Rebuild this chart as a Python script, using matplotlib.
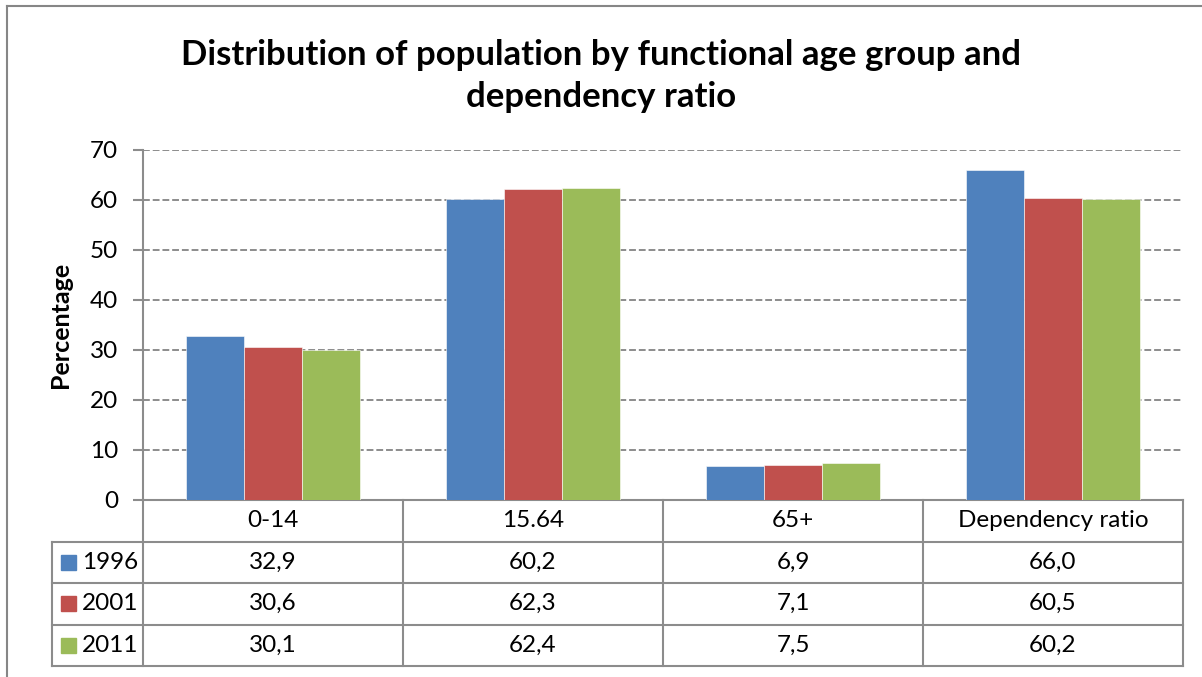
import matplotlib.pyplot as plt
from matplotlib.lines import Line2D
import numpy as np

plt.rcParams['font.family'] = ['Lato', 'DejaVu Sans']

categories = ["0-14", "15.64", "65+", "Dependency ratio"]
years = ["1996", "2001", "2011"]
v1996 = [32.9, 60.2, 6.9, 66.0]
v2001 = [30.6, 62.3, 7.1, 60.5]
v2011 = [30.1, 62.4, 7.5, 60.2]
series = [v1996, v2001, v2011]
colors = ["#4F81BD", "#C0504D", "#9BBB59"]

W, H = 1202, 677
fig = plt.figure(figsize=(W / 100, H / 100), dpi=100)

# plot area in pixels: x 143..1183, y 150..500
ax = fig.add_axes([143 / W, 1 - 500 / H, 1040 / W, 350 / H])

x = np.arange(len(categories))
bw = 0.222
for i, vals in enumerate(series):
    ax.bar(x + (i - 1) * bw, vals, bw, color=colors[i], edgecolor="white",
           linewidth=0.4, zorder=3, label=years[i])

ax.set_xlim(-0.5, len(categories) - 0.5)
ax.set_ylim(0, 70)
ax.set_yticks(range(0, 71, 10))
ax.yaxis.grid(True, linestyle=(0, (3.5, 1.5)), color="#8c8c8c", linewidth=1.4, zorder=0)
ax.set_xticks([])
for s in ["top", "right"]:
    ax.spines[s].set_visible(False)
gray = "#8c8c8c"
ax.spines["left"].set_color(gray)
ax.spines["bottom"].set_color(gray)
ax.spines["left"].set_linewidth(1.5)
ax.spines["bottom"].set_linewidth(1.5)
fs = 17.5
ax.tick_params(axis="y", length=7, width=1.5, color=gray, labelsize=fs, pad=11)
ax.set_ylabel("Percentage", fontsize=18, fontweight="bold")
ax.yaxis.set_label_coords(-71 / 1040, 0.5)

# data table below the axis
row_h = 41.5 / 350
left_col = -0.5 - 91 / 260.0
trans = ax.get_xaxis_transform()

def hline(y, x0, x1):
    ax.add_line(Line2D([x0, x1], [y, y], color=gray, linewidth=1.5, clip_on=False,
                       transform=trans))

def vline(xv, y0, y1):
    ax.add_line(Line2D([xv, xv], [y0, y1], color=gray, linewidth=1.5, clip_on=False,
                       transform=trans))

bottom = -4 * row_h
for k in range(1, 5):
    hline(-k * row_h, left_col, 3.5)
for b in np.arange(-0.5, 4.0, 1.0):
    vline(b, 0, bottom)
vline(left_col, -row_h, bottom)

for j, c in enumerate(categories):
    ax.text(j, -0.5 * row_h, c, transform=trans, ha="center", va="center",
            fontsize=fs, clip_on=False)

for i, vals in enumerate(series):
    yc = -(i + 1.5) * row_h
    for j, v in enumerate(vals):
        ax.text(j, yc, f"{v:.1f}".replace(".", ","), transform=trans,
                ha="center", va="center", fontsize=fs, clip_on=False)
    ax.add_patch(plt.Rectangle((left_col + 9 / 260, yc - 0.022), 15 / 260, 0.044,
                               color=colors[i], transform=trans, clip_on=False))
    ax.text(left_col + 30 / 260, yc, years[i], transform=trans, ha="left",
            va="center", fontsize=fs, clip_on=False)

# title
fig.text(0.5, 1 - 55 / H, "Distribution of population by functional age group and",
         ha="center", va="center", fontsize=25, fontweight="bold")
fig.text(0.5, 1 - 97 / H, "dependency ratio", ha="center", va="center",
         fontsize=25, fontweight="bold")

# outer chart border
fig.add_artist(Line2D([7 / W, 7 / W], [0, 1 - 6 / H], color="#868686", linewidth=1.5))
fig.add_artist(Line2D([7 / W, 1], [1 - 6 / H, 1 - 6 / H], color="#868686", linewidth=1.5))

fig.savefig("out.png", dpi=100)
